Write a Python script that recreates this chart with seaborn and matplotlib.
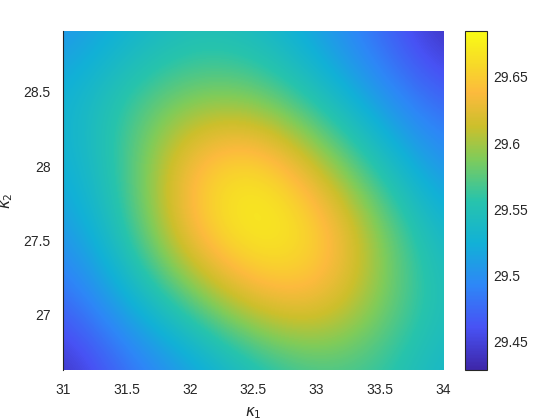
import numpy as np
import matplotlib
matplotlib.use("Agg")
import matplotlib.pyplot as plt
import seaborn as sns
from matplotlib.colors import LinearSegmentedColormap

# grid of sample positions
kappa1 = [31.0, 31.5, 32.0, 32.5, 33.0, 33.5, 34.0]
kappa2 = [26.62, 27.08, 27.53, 27.99, 28.44, 28.9]

# surface values, one row per kappa2 value (estimated from colours)
row_26_62 = [29.432, 29.475, 29.505, 29.540, 29.565, 29.560, 29.530]
row_27_08 = [29.470, 29.520, 29.570, 29.625, 29.638, 29.590, 29.545]
row_27_53 = [29.500, 29.555, 29.643, 29.685, 29.668, 29.595, 29.530]
row_27_99 = [29.520, 29.565, 29.648, 29.675, 29.618, 29.550, 29.500]
row_28_44 = [29.525, 29.565, 29.590, 29.590, 29.550, 29.505, 29.470]
row_28_90 = [29.500, 29.525, 29.545, 29.540, 29.510, 29.475, 29.432]

cbar_ticks = [29.45, 29.5, 29.55, 29.6, 29.65]
x_ticks = [31, 31.5, 32, 32.5, 33, 33.5, 34]
y_ticks = [27, 27.5, 28, 28.5]

Z = np.array([row_26_62, row_27_08, row_27_53, row_27_99, row_28_44, row_28_90])

parula_anchors = [
    (0.000, (0.2422, 0.1504, 0.6603)),
    (0.125, (0.2810, 0.3228, 0.9579)),
    (0.250, (0.1786, 0.5289, 0.9682)),
    (0.375, (0.0689, 0.6948, 0.8394)),
    (0.500, (0.1540, 0.7674, 0.6728)),
    (0.625, (0.5044, 0.7993, 0.3480)),
    (0.720, (0.8000, 0.7500, 0.1700)),
    (0.820, (0.9900, 0.7300, 0.2400)),
    (0.900, (0.9700, 0.8500, 0.1600)),
    (1.000, (0.9769, 0.9839, 0.0805)),
]
parula = LinearSegmentedColormap.from_list("parula", parula_anchors, N=256)

sns.set_theme(style="white")
plt.rcParams["font.family"] = ["Liberation Sans", "DejaVu Sans"]

fig = plt.figure(figsize=(5.6, 4.2), dpi=100)
ax = fig.add_axes([0.1125, 0.119, 0.679, 0.807])
cax = fig.add_axes([0.830, 0.119, 0.040, 0.807])

dx = kappa1[1] - kappa1[0]
dy = (kappa2[-1] - kappa2[0]) / (len(kappa2) - 1)
vmin, vmax = 29.4286, 29.6846
im = ax.imshow(Z, origin="lower", aspect="auto", cmap=parula,
               interpolation="bicubic", vmin=vmin, vmax=vmax,
               extent=[kappa1[0] - dx / 2, kappa1[-1] + dx / 2,
                       kappa2[0] - dy / 2, kappa2[-1] + dy / 2])
ax.set_xlim(31, 34)
ax.set_ylim(26.63, 28.908)
ax.set_xticks(x_ticks)
ax.set_xticklabels([f"{t:g}" for t in x_ticks])
ax.set_yticks(y_ticks)
ax.set_yticklabels([f"{t:g}" for t in y_ticks])
ax.tick_params(length=0, labelsize=10, colors="#262626", pad=9)
for s in ["top", "right", "bottom"]:
    ax.spines[s].set_visible(False)
ax.spines["left"].set_color("#262626")
ax.spines["left"].set_linewidth(0.8)
ax.set_xlabel(r"$\kappa_1$", fontsize=11, color="#262626", labelpad=6)
ax.set_ylabel(r"$\kappa_2$", fontsize=11, color="#262626", labelpad=6)

cb = fig.colorbar(im, cax=cax)
cb.set_ticks(cbar_ticks)
cb.set_ticklabels([f"{t:g}" for t in cbar_ticks])
cax.tick_params(direction="in", length=3, width=0.6, labelsize=10,
                colors="#262626", pad=4)
cb.outline.set_edgecolor("#262626")
cb.outline.set_linewidth(0.8)

fig.savefig("out.png", dpi=100)
